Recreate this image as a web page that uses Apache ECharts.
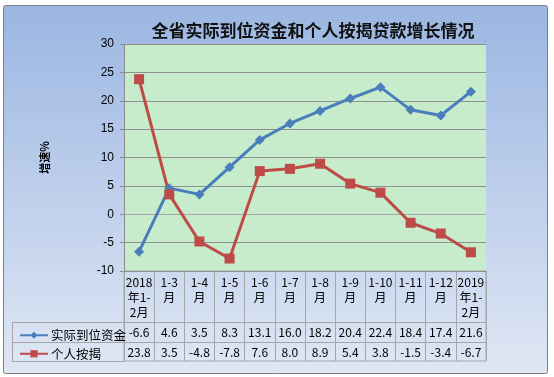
<!DOCTYPE html>
<html><head><meta charset="utf-8">
<script src="https://cdn.jsdelivr.net/npm/echarts@6/dist/echarts.min.js"></script>
<style>html,body{margin:0;padding:0;background:#fff;}#c{width:554px;height:377px;}</style>
</head><body><div id="c"></div>
<script>
const categories = ['2018\n年1-\n2月','1-3\n月','1-4\n月','1-5\n月','1-6\n月','1-7\n月','1-8\n月','1-9\n月','1-10\n月','1-11\n月','1-12\n月','2019\n年1-\n2月'];
const seriesNames = ['实际到位资金','个人按揭'];
const funds = [-6.6,4.6,3.5,8.3,13.1,16.0,18.2,20.4,22.4,18.4,17.4,21.6];
const mortgage = [23.8,3.5,-4.8,-7.8,7.6,8.0,8.9,5.4,3.8,-1.5,-3.4,-6.7];
const yTicks = {min:-10,max:30,interval:5};

const chart = echarts.init(document.getElementById('c'), null, {renderer:'canvas'});
const gridLeft = 124, gridRight = 486, gridTop = 44, gridBottom = 271, tableBottom = 361;
const tableFont = '"Noto Sans CJK SC"';
const lineCol = '#a6a6a6';
function valAxis(arr, offset){
  return {
    type:'category', gridIndex:0, position:'bottom', offset:offset, data:categories,
    axisLine:{show:true,lineStyle:{color:lineCol,width:1}},
    axisTick:{show:false}, splitLine:{show:false},
    axisLabel: {show:true, interval:0, margin:4, fontSize:12, fontFamily:tableFont, color:'#000',
      formatter:(v,i)=>arr[i].toFixed(1)}
  };
}
const option = {
  animation:false,
  backgroundColor:'transparent',
  graphic:[
    {type:'rect', z:-10, shape:{x:3.5,y:5.5,width:544,height:368, r:2},
     style:{fill:new echarts.graphic.LinearGradient(0,0,0,1,[{offset:0,color:'#9bb6e2'},{offset:1,color:'#dfe7f4'}]), stroke:'#7f7f7f', lineWidth:1}},
    {type:'line', shape:{x1:12,y1:322.5,x2:gridLeft,y2:322.5}, style:{stroke:lineCol,lineWidth:1}},
    {type:'line', shape:{x1:12,y1:342.5,x2:gridLeft,y2:342.5}, style:{stroke:lineCol,lineWidth:1}},
    {type:'line', shape:{x1:12,y1:361.5,x2:gridLeft,y2:361.5}, style:{stroke:lineCol,lineWidth:1}},
    {type:'line', shape:{x1:12.5,y1:322,x2:12.5,y2:362}, style:{stroke:lineCol,lineWidth:1}}
  ],
  title:{text:'全省实际到位资金和个人按揭贷款增长情况', left:308, top:17, textAlign:'center',
    textStyle:{fontSize:17, fontWeight:'bold', color:'#111', fontFamily:tableFont}},
  legend:{orient:'vertical', left:14, top:324, itemGap:6, itemWidth:28, itemHeight:9,
    textStyle:{fontSize:12.5, fontFamily:tableFont, color:'#000', padding:[0,0,0,-2]},
    data:seriesNames},
  grid:[
    {left:gridLeft, top:gridTop, width:gridRight-gridLeft, height:gridBottom-gridTop,
     show:true, backgroundColor:'#c6eccb', borderWidth:0},
    {left:gridLeft, top:gridBottom, width:gridRight-gridLeft, height:tableBottom-gridBottom,
     show:true, backgroundColor:'transparent', borderWidth:1, borderColor:lineCol}
  ],
  xAxis:[
    {type:'category', data:categories, position:'bottom', boundaryGap:true, gridIndex:0,
     axisLine:{show:true,lineStyle:{color:lineCol}},
     axisTick:{show:false},
     axisLabel:{interval:0, margin:4, fontSize:12, lineHeight:15, fontFamily:tableFont, color:'#000'},
     splitLine:{show:false}},
    valAxis(funds, 51),
    valAxis(mortgage, 71),
    {type:'category', data:categories, gridIndex:1, boundaryGap:true,
     axisLine:{show:false}, axisTick:{show:false}, axisLabel:{show:false},
     splitLine:{show:true, interval:0, lineStyle:{color:lineCol, width:1}}}
  ],
  yAxis:[
    {type:'value', min:yTicks.min, max:yTicks.max, interval:yTicks.interval, gridIndex:0,
    name:'增速%', nameLocation:'middle', nameRotate:90, nameGap:74,
    nameTextStyle:{fontSize:11, fontWeight:'bold', color:'#000', fontFamily:tableFont},
    axisLine:{show:true, lineStyle:{color:'#8c8c8c'}},
    axisTick:{show:true, length:4, lineStyle:{color:'#8c8c8c'}},
    axisLabel:{fontSize:12, color:'#000', margin:10, fontFamily:'"Liberation Sans"'},
    splitLine:{show:true, lineStyle:{color:'#8f8f8f', width:1}}},
    {type:'value', gridIndex:1, show:false, min:0, max:1, splitLine:{show:false}}
  ],
  series:[
    {name:seriesNames[0], type:'line', data:funds, symbol:'diamond', symbolSize:10,
     lineStyle:{color:'#4a7ebb', width:3}, itemStyle:{color:'#4a7ebb'}},
    {name:seriesNames[1], type:'line', data:mortgage, symbol:'rect', symbolSize:10,
     lineStyle:{color:'#be4b48', width:3}, itemStyle:{color:'#be4b48'}}
  ]
};
chart.setOption(option);
</script></body></html>
